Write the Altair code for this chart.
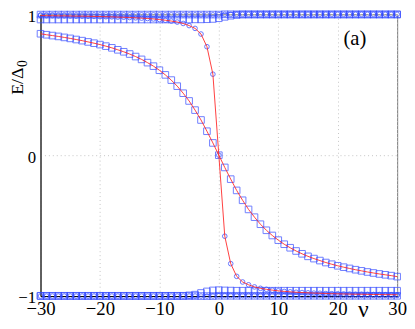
import altair as alt
import pandas as pd

nu = list(range(-30, 31))

# steep curve (circles + red line)
circ_curve = [0.991, 0.990, 0.990, 0.989, 0.989, 0.988, 0.987, 0.987, 0.986, 0.985,
              0.984, 0.983, 0.982, 0.980, 0.979, 0.977, 0.975, 0.973, 0.970, 0.967,
              0.963, 0.958, 0.952, 0.945, 0.935, 0.920, 0.900, 0.860, 0.770, 0.575,
              0.0,
              -0.575, -0.770, -0.860, -0.900, -0.920, -0.935, -0.945, -0.952, -0.958, -0.963,
              -0.967, -0.970, -0.973, -0.975, -0.977, -0.979, -0.980, -0.982, -0.983, -0.984,
              -0.985, -0.986, -0.987, -0.987, -0.988, -0.989, -0.989, -0.990, -0.990, -0.991]

# gradual curve (squares + red line)
sq_curve = [0.862, 0.855, 0.849, 0.843, 0.836, 0.829, 0.821, 0.813, 0.804, 0.795,
            0.785, 0.774, 0.762, 0.748, 0.734, 0.718, 0.700, 0.680, 0.657, 0.632,
            0.603, 0.570, 0.533, 0.490, 0.440, 0.385, 0.320, 0.250, 0.170, 0.087,
            0.0,
            -0.087, -0.170, -0.250, -0.320, -0.385, -0.440, -0.490, -0.533, -0.570, -0.603,
            -0.632, -0.657, -0.680, -0.700, -0.718, -0.734, -0.748, -0.762, -0.774, -0.785,
            -0.795, -0.804, -0.813, -0.821, -0.829, -0.836, -0.843, -0.849, -0.855, -0.862]

circ_top = [0.996, 0.996, 0.996, 0.996, 0.996, 0.996, 0.996, 0.996, 0.996, 0.996,
            0.996, 0.996, 0.996, 0.996, 0.996, 0.996, 0.996, 0.996, 0.996, 0.996,
            0.996, 0.996, 0.996, 0.996, 0.996, 0.996, 0.996, 0.996, 0.996, 0.996,
            0.998,
            1.0, 1.0, 1.0, 1.0, 1.0, 1.0, 1.0, 1.0, 1.0, 1.0,
            1.0, 1.0, 1.0, 1.0, 1.0, 1.0, 1.0, 1.0, 1.0, 1.0,
            1.0, 1.0, 1.0, 1.0, 1.0, 1.0, 1.0, 1.0, 1.0, 1.0]

sq_top = [0.998, 0.998, 0.998, 0.998, 0.998, 0.998, 0.998, 0.998, 0.998, 0.998,
          0.998, 0.998, 0.998, 0.998, 0.998, 0.998, 0.998, 0.998, 0.998, 0.998,
          0.998, 0.998, 0.998, 0.998, 0.998, 0.998, 0.998, 0.998, 0.998, 0.998,
          0.998,
          1.0, 1.0, 1.0, 1.0, 1.0, 1.0, 1.0, 1.0, 1.0, 1.0,
          1.0, 1.0, 1.0, 1.0, 1.0, 1.0, 1.0, 1.0, 1.0, 1.0,
          1.0, 1.0, 1.0, 1.0, 1.0, 1.0, 1.0, 1.0, 1.0, 1.0]

sq_top2 = [0.963, 0.963, 0.963, 0.963, 0.963, 0.963, 0.963, 0.963, 0.963, 0.963,
           0.963, 0.963, 0.963, 0.963, 0.963, 0.963, 0.963, 0.963, 0.963, 0.963,
           0.963, 0.963, 0.963, 0.963, 0.963, 0.963, 0.964, 0.964, 0.965, 0.967,
           0.972,
           0.982, 0.990, 0.995, 0.998, 0.998, 0.998, 0.998, 0.998, 0.998, 0.998,
           0.998, 0.998, 0.998, 0.998, 0.998, 0.998, 0.998, 0.998, 0.998, 0.998,
           0.998, 0.998, 0.998, 0.998, 0.998, 0.998, 0.998, 0.998, 0.998, 0.998]

circ_bot = [-1.0, -1.0, -1.0, -1.0, -1.0, -1.0, -1.0, -1.0, -1.0, -1.0,
            -1.0, -1.0, -1.0, -1.0, -1.0, -1.0, -1.0, -1.0, -1.0, -1.0,
            -1.0, -1.0, -1.0, -1.0, -1.0, -1.0, -1.0, -1.0, -1.0, -1.0,
            -0.998,
            -0.996, -0.996, -0.996, -0.996, -0.996, -0.996, -0.996, -0.996, -0.996, -0.996,
            -0.996, -0.996, -0.996, -0.996, -0.996, -0.996, -0.996, -0.996, -0.996, -0.996,
            -0.996, -0.996, -0.996, -0.996, -0.996, -0.996, -0.996, -0.996, -0.996, -0.996]

sq_bot = [-1.0, -1.0, -1.0, -1.0, -1.0, -1.0, -1.0, -1.0, -1.0, -1.0,
          -1.0, -1.0, -1.0, -1.0, -1.0, -1.0, -1.0, -1.0, -1.0, -1.0,
          -1.0, -1.0, -1.0, -1.0, -1.0, -1.0, -1.0, -1.0, -1.0, -1.0,
          -0.998,
          -0.998, -0.998, -0.998, -0.998, -0.998, -0.998, -0.998, -0.998, -0.998, -0.998,
          -0.998, -0.998, -0.998, -0.998, -0.998, -0.998, -0.998, -0.998, -0.998, -0.998,
          -0.998, -0.998, -0.998, -0.998, -0.998, -0.998, -0.998, -0.998, -0.998, -0.998]

sq_bot2 = [-0.998, -0.998, -0.998, -0.998, -0.998, -0.998, -0.998, -0.998, -0.998, -0.998,
           -0.998, -0.998, -0.998, -0.998, -0.998, -0.998, -0.998, -0.998, -0.998, -0.998,
           -0.998, -0.998, -0.998, -0.998, -0.998, -0.995, -0.990, -0.978, -0.967, -0.960,
           -0.958,
           -0.960, -0.961, -0.962, -0.962, -0.962, -0.962, -0.962, -0.962, -0.962, -0.962,
           -0.962, -0.962, -0.962, -0.962, -0.962, -0.962, -0.962, -0.962, -0.962, -0.962,
           -0.962, -0.962, -0.962, -0.962, -0.962, -0.962, -0.962, -0.962, -0.962, -0.962]

x_ticks = [-30, -20, -10, 0, 10, 20, 30]
y_ticks = [-1.0, 0.0, 1.0]
y_title = "E/Δ"
y_title_sub = "0"

FONT = "Liberation Serif, Times New Roman, serif"
MARK_COLOR = "#3349ff"

series = [
    ("circ_curve", "circle", circ_curve),
    ("circ_top", "circle", circ_top),
    ("circ_bot", "circle", circ_bot),
    ("sq_curve", "square", sq_curve),
    ("sq_top", "square", sq_top),
    ("sq_top2", "square", sq_top2),
    ("sq_bot", "square", sq_bot),
    ("sq_bot2", "square", sq_bot2),
]
rows = []
for name, shape, vals in series:
    for n, v in zip(nu, vals):
        rows.append({"nu": n, "E": v, "series": name, "shape": shape})
df = pd.DataFrame(rows)

line_df = df[df["series"].isin(["circ_curve", "sq_curve"])]

x_scale = alt.Scale(domain=[-30, 30], nice=False, zero=False)
y_scale = alt.Scale(domain=[-1, 1], nice=False, zero=False)

x_axis = alt.Axis(values=x_ticks, title=None, grid=True, gridColor="#c4c4c4",
                  gridDash=[1, 3], gridWidth=1, ticks=False, domainColor="black",
                  domainWidth=1, labelFont=FONT, labelFontSize=19, labelColor="black",
                  labelBaseline="alphabetic", labelPadding=19,
                  labelFlush=False, labelOverlap=False, format=".0f")
y_axis = alt.Axis(values=y_ticks, title=None, grid=True, gridColor="#c4c4c4",
                  gridDash=[1, 3], gridWidth=1, ticks=False, domainColor="black",
                  domainWidth=1, labelFont=FONT, labelFontSize=17, labelColor="black",
                  labelPadding=5, labelFlush=False, labelOverlap=False, format=".0f",
                  labelBaseline="alphabetic", labelOffset=7)


def xy():
    return dict(x=alt.X("nu:Q", scale=x_scale, axis=x_axis),
                y=alt.Y("E:Q", scale=y_scale, axis=y_axis))


circles = alt.Chart(df[df["shape"] == "circle"]).mark_point(
    shape="circle", filled=False, size=22, strokeWidth=1, opacity=0.75, color=MARK_COLOR
).encode(**xy(), detail="series:N")

squares = alt.Chart(df[df["shape"] == "square"]).mark_point(
    shape="square", filled=False, size=45, strokeWidth=1, opacity=0.7, color=MARK_COLOR
).encode(**xy(), detail="series:N")

lines = alt.Chart(line_df).mark_line(color="#ff2a2a", strokeWidth=1, opacity=0.9).encode(
    **xy(), detail="series:N", order="nu:Q")

labels_df = pd.DataFrame({"nu": [22.9, 24.3], "E": [0.825, -1.098], "txt": ["(a)", "ν"]})
label_a = alt.Chart(labels_df.iloc[[0]]).mark_text(
    font=FONT, fontSize=21, color="black", align="center", baseline="middle"
).encode(**xy(), text="txt:N")
label_nu = alt.Chart(labels_df.iloc[[1]]).mark_text(
    font=FONT, fontSize=24, color="black", align="center", baseline="middle"
).encode(**xy(), text="txt:N")

title_df = pd.DataFrame({"txt": [y_title]})
sub_df = pd.DataFrame({"txt": [y_title_sub]})
title_main = alt.Chart(title_df).mark_text(
    font=FONT, fontSize=18, color="black", angle=270, align="center", baseline="middle"
).encode(x=alt.value(-23), y=alt.value(68), text="txt:N")
title_sub = alt.Chart(sub_df).mark_text(
    font=FONT, fontSize=14, color="black", angle=270, align="center", baseline="middle"
).encode(x=alt.value(-18), y=alt.value(50), text="txt:N")

chart = alt.layer(squares, circles, lines, label_a, label_nu, title_main, title_sub).properties(
    width=362, height=286,
    autosize=alt.AutoSizeParams(type="none"),
    padding={"left": 33, "top": 4, "right": 10, "bottom": 29},
).configure_view(stroke="#777777", strokeWidth=1)

chart.save("out.html", embed_options={"renderer": "svg", "actions": False})
